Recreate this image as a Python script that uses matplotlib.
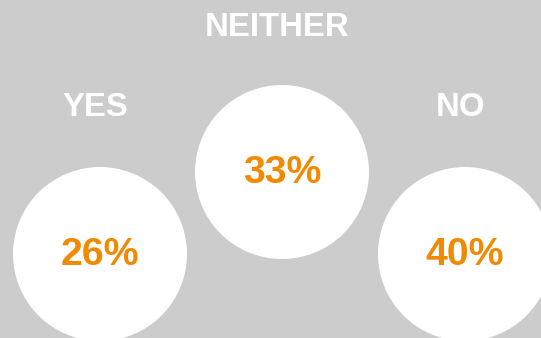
import matplotlib
matplotlib.use("Agg")
import matplotlib.pyplot as plt
import matplotlib.patches as patches

# Data
categories = ["YES", "NEITHER", "NO"]
shares = [26, 33, 40]

# Layout (pixel coords, y down)
W, H = 541, 338
CIRCLE_X = [100, 282, 465]
CIRCLE_Y = [254, 172, 254]
RADIUS = 87
LABEL_Y = [108, 27, 108]
LABEL_X = [95, 277, 460]

BG = "#cccccc"
ORANGE = "#f18a00"
FONT = ["Liberation Sans", "DejaVu Sans"]

fig = plt.figure(figsize=(W / 100, H / 100), dpi=100, facecolor=BG)
ax = fig.add_axes([0, 0, 1, 1])
ax.set_xlim(0, W)
ax.set_ylim(H, 0)
ax.set_aspect("equal")
ax.axis("off")
ax.set_facecolor(BG)

for cat, val, cx, cy, lx, ly in zip(categories, shares, CIRCLE_X, CIRCLE_Y,
                                     LABEL_X, LABEL_Y):
    ax.add_patch(patches.Circle((cx, cy), RADIUS, fc="white", ec="none"))
    ax.text(cx, cy + 1, f"{val}%", ha="center", va="center",
            fontsize=28.3, fontweight="bold", color=ORANGE, family=FONT)
    ax.text(lx, ly, cat, ha="center", va="center",
            fontsize=23.7, fontweight="bold", color="white", family=FONT)

fig.savefig("out.png", dpi=100, facecolor=BG)
